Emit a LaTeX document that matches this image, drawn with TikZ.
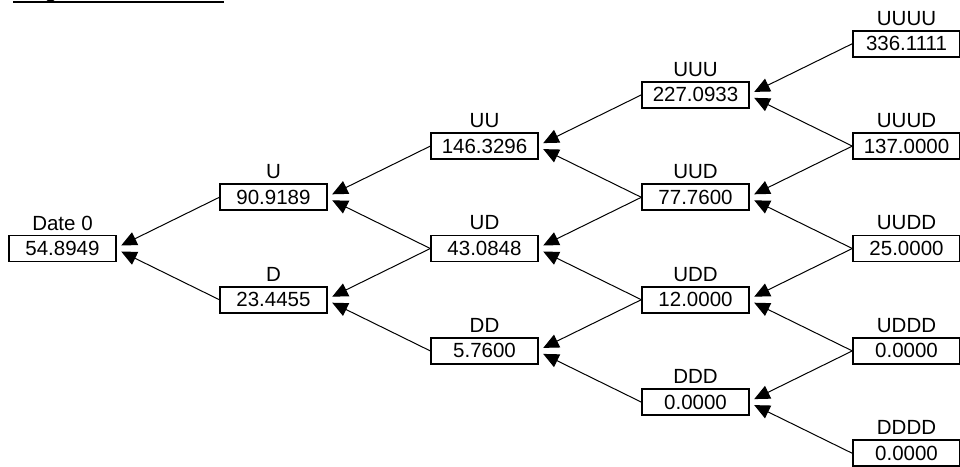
\documentclass[tikz,border=0pt]{standalone}
\usepackage{fontspec}
\setmainfont{Liberation Sans}
\usetikzlibrary{arrows.meta,calc}

\tikzset{
  valbox/.style={draw, line width=1.9pt, minimum width=106.5pt, minimum height=26pt,
                 inner sep=0pt, font=\fontsize{20.5}{23}\selectfont},
  tag/.style={inner sep=0pt, font=\fontsize{20.5}{23}\selectfont},
  conn/.style={line width=1pt, -{Triangle[length=15.5pt,width=14pt]}},
}

% #1 name, #2 x, #3 y (centre of value box), #4 state label, #5 value
\newcommand\treenode[5]{%
  \node[valbox] (#1) at (#2,#3) {#5};
  \node[tag] (#1-tag) at (#2,#3-25.5) {#4};
}

\begin{document}
\begin{tikzpicture}[x=1pt,y=-1pt]
  \useasboundingbox (0,0) rectangle (960,466);

  % cut-off underlined heading
  \draw[line width=2pt] (13,2) -- (224,2);
  \fill (46.5,0) .. controls (47,1.8) and (54,1.8) .. (54.5,0) -- cycle;

  % column x-positions and row y-positions
  \def\cA{62.5}  \def\cB{273.5} \def\cC{484.5} \def\cD{695.5} \def\cE{906.5}
  \def\rA{43.7}  \def\rB{94.9}  \def\rC{146.1} \def\rD{197.3} \def\rE{248.5}
  \def\rF{299.7} \def\rG{350.9} \def\rH{402.1} \def\rI{453.3}

  \treenode{n}{\cA}{\rE}{Date 0}{54.8949}

  \treenode{u}{\cB}{\rD}{U}{90.9189}
  \treenode{d}{\cB}{\rF}{D}{23.4455}

  \treenode{uu}{\cC}{\rC}{UU}{146.3296}
  \treenode{ud}{\cC}{\rE}{UD}{43.0848}
  \treenode{dd}{\cC}{\rG}{DD}{5.7600}

  \treenode{uuu}{\cD}{\rB}{UUU}{227.0933}
  \treenode{uud}{\cD}{\rD}{UUD}{77.7600}
  \treenode{udd}{\cD}{\rF}{UDD}{12.0000}
  \treenode{ddd}{\cD}{\rH}{DDD}{0.0000}

  \treenode{uuuu}{\cE}{\rA}{UUUU}{336.1111}
  \treenode{uuud}{\cE}{\rC}{UUUD}{137.0000}
  \treenode{uudd}{\cE}{\rE}{UUDD}{25.0000}
  \treenode{uddd}{\cE}{\rG}{UDDD}{0.0000}
  \treenode{dddd}{\cE}{\rI}{DDDD}{0.0000}

  % up-child and down-child arrows into each parent
  \foreach \p/\up/\dn in {n/u/d, u/uu/ud, d/ud/dd,
                          uu/uuu/uud, ud/uud/udd, dd/udd/ddd,
                          uuu/uuuu/uuud, uud/uuud/uudd, udd/uudd/uddd, ddd/uddd/dddd}{
    \draw[conn] (\up.west) -- ($(\p.east)+(4.5,-3)$);
    \draw[conn] (\dn.west) -- ($(\p.east)+(4.5,3)$);
  }
\end{tikzpicture}
\end{document}
